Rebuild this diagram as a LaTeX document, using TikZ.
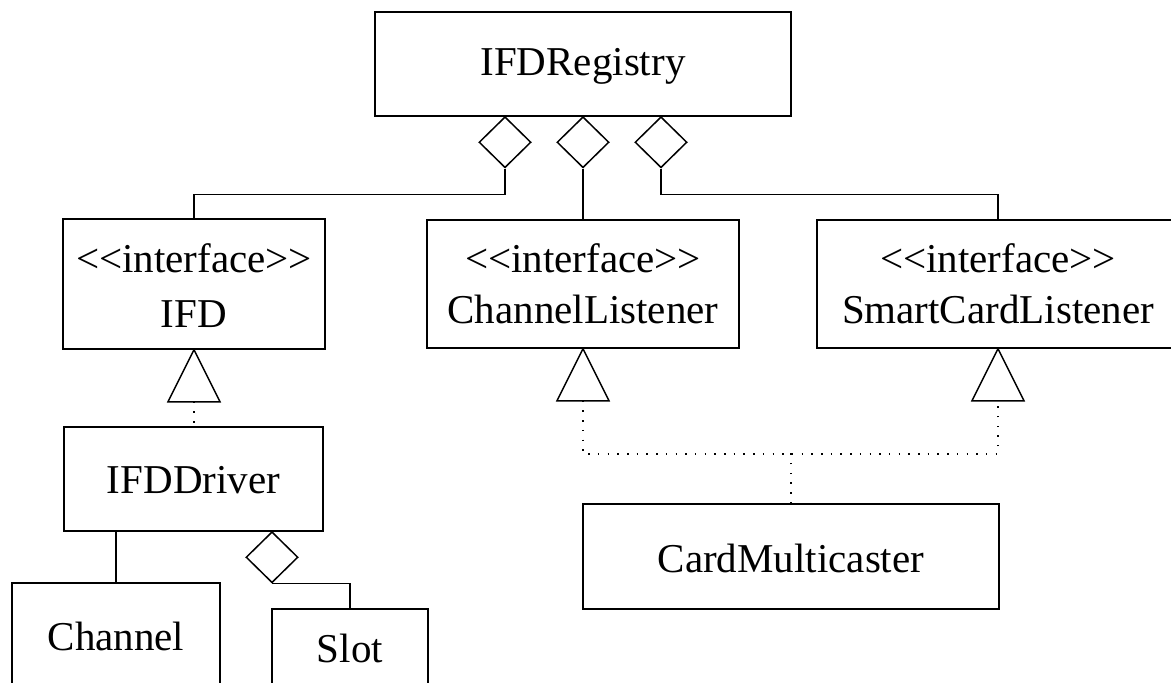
\documentclass[tikz,border=0pt]{standalone}
\usepackage{fontspec}
\setmainfont{Liberation Serif}
\usetikzlibrary{shapes.geometric}
\tikzset{
  classbox/.style 2 args={draw, rectangle, inner sep=0pt, minimum width=#1, minimum height=#2},
  lbl/.style={anchor=base, inner sep=0pt, font=\fontsize{41}{49}\selectfont},
  aggr/.style={draw, diamond, inner sep=0pt, minimum width=52pt, minimum height=51pt, fill=white, anchor=north},
  realize/.style={dash pattern=on 1.5pt off 8.2pt},
}
\begin{document}
\begin{tikzpicture}[x=1pt, y=-1pt, line width=1.5pt]
\fill[white] (0,0) rectangle (1171,683);
\useasboundingbox (0,0) rectangle (1171,683);
\clip (0,0) rectangle (1171,683);

% classes
\node[classbox={416pt}{104pt}] (reg) at (583,64) {};
\node[lbl] (regT) at (583,75) {IFDRegistry};

\node[classbox={262pt}{130pt}] (ifd) at (194,284) {};
\node[lbl] (ifdS) at (194,272) {<{}<interface>{}>};
\node[lbl] (ifdT) at (194,327) {IFD};

\node[classbox={312pt}{128pt}] (cl) at (583,284) {};
\node[lbl] (clS) at (583,272) {<{}<interface>{}>};
\node[lbl] (clT) at (583,323) {ChannelListener};

\node[classbox={362pt}{128pt}] (scl) at (998,284) {};
\node[lbl] (sclS) at (998,272) {<{}<interface>{}>};
\node[lbl] (sclT) at (998,323) {SmartCardListener};

\node[classbox={259pt}{104pt}] (drv) at (193.5,479) {};
\node[lbl] (drvT) at (193.5,493) {IFDDriver};

\node[classbox={208pt}{160pt}] (ch) at (116,663) {};
\node[lbl] (chT) at (116,650) {Channel};

\node[classbox={156pt}{160pt}] (slot) at (350,689) {};
\node[lbl] (slotT) at (350,662) {Slot};

\node[classbox={416pt}{105pt}] (cm) at (791,556.5) {};
\node[lbl] (cmT) at (791,572) {CardMulticaster};

% aggregation diamonds
\node[aggr] (d1) at (505,116) {};
\node[aggr] (d2) at (583,116) {};
\node[aggr] (d3) at (661,116) {};
\node[aggr] (d4) at (272,531) {};

% associations
\draw (d1.south) -- ++(0,26) -| (ifd.north);
\draw (d2.south) -- (cl.north);
\draw (d3.south) -- ++(0,26) -| (scl.north);
\draw (d4.south) -| (slot.north);
\draw (drv.south -| ch.north) -- (ch.north);

% realization triangles
\draw (ifd.south) -- ++(-26,52) -- ++(52,0) -- cycle;
\path (ifd.south) ++(0,52) coordinate (ifdB);
\draw (cl.south) -- ++(-26,52) -- ++(52,0) -- cycle;
\path (cl.south) ++(0,52) coordinate (clB);
\draw (scl.south) -- ++(-26,52) -- ++(52,0) -- cycle;
\path (scl.south) ++(0,52) coordinate (sclB);

% realization lines
\draw[realize] (ifdB) -- (ifdB |- drv.north);
\draw[realize] (clB) -- ++(0,53) -| (sclB);
\draw[realize] (cm.north) -- ++(0,-51);
\end{tikzpicture}
\end{document}
